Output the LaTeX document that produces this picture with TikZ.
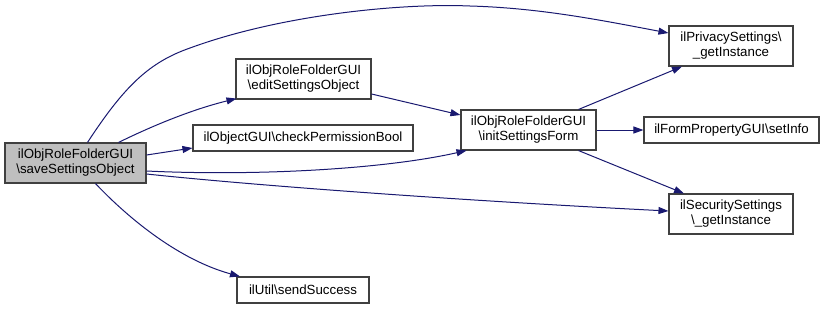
\documentclass[tikz,border=0pt]{standalone}
\usepackage{fontspec}
\setmainfont{Liberation Sans}
\usetikzlibrary{arrows.meta}
\definecolor{edgeblue}{HTML}{191970}
\definecolor{boxline}{HTML}{404040}
\definecolor{curfill}{HTML}{BFBFBF}
\tikzset{
  fn/.style={draw=boxline, line width=1.1pt, fill=white, inner sep=0pt, align=center,
    font=\fontsize{13.3}{15}\selectfont},
  cur/.style={fn, fill=curfill},
  call/.style={draw=edgeblue, line width=1pt, -{Triangle[length=10pt,width=7pt]}}
}
\begin{document}
\begin{tikzpicture}[x=1pt,y=-1pt]
\useasboundingbox (0,0) rectangle (824,309);
\node[cur, minimum width=141pt, minimum height=40pt] (A) at (75.5,163) {ilObjRoleFolderGUI\\\textbackslash saveSettingsObject};
\node[fn, minimum width=135pt, minimum height=40pt] (B) at (303.5,79) {ilObjRoleFolderGUI\\\textbackslash editSettingsObject};
\node[fn, minimum width=220pt, minimum height=26pt] (C) at (303,138) {ilObjectGUI\textbackslash checkPermissionBool};
\node[fn, minimum width=135pt, minimum height=40pt] (D) at (528.5,130) {ilObjRoleFolderGUI\\\textbackslash initSettingsForm};
\node[fn, minimum width=124pt, minimum height=40pt] (P) at (731,46) {ilPrivacySettings\textbackslash\\\_getInstance};
\node[fn, minimum width=175pt, minimum height=26pt] (I) at (731.5,130) {ilFormPropertyGUI\textbackslash setInfo};
\node[fn, minimum width=124pt, minimum height=40pt] (S) at (731,214) {ilSecuritySettings\\\textbackslash\_getInstance};
\node[fn, minimum width=132pt, minimum height=26pt] (U) at (303,290) {ilUtil\textbackslash sendSuccess};

\draw[call] ([xshift=12pt]A.north) .. controls (125,85) and (150,62) .. (190,48)
  .. controls (280,15) and (400,3) .. (470,6)
  .. controls (540,8) and (600,20) .. ([yshift=13pt]P.west);
\draw[call] ([xshift=43pt]A.north) .. controls (150,127) and (190,110) .. ([xshift=-67pt,yshift=1pt]B.south);
\draw[call] ([yshift=8pt]A.east) -- ([yshift=-10pt]C.west);
\draw[call] ([yshift=-8pt]A.east) .. controls (250,176) and (380,170) .. ([xshift=-62pt]D.south);
\draw[call] ([yshift=-11pt]A.east) .. controls (250,185) and (450,200) .. ([yshift=3pt]S.west);
\draw[call] ([xshift=20pt]A.south) .. controls (130,220) and (180,260) .. ([xshift=-63pt]U.north);
\draw[call] ([yshift=-15pt]B.east) -- ([yshift=15pt]D.west);
\draw[call] ([xshift=50pt]D.north) -- ([xshift=-49pt]P.south);
\draw[call] (D.east) -- (I.west);
\draw[call] ([xshift=50pt]D.south) -- ([xshift=-47pt]S.north);
\end{tikzpicture}
\end{document}
